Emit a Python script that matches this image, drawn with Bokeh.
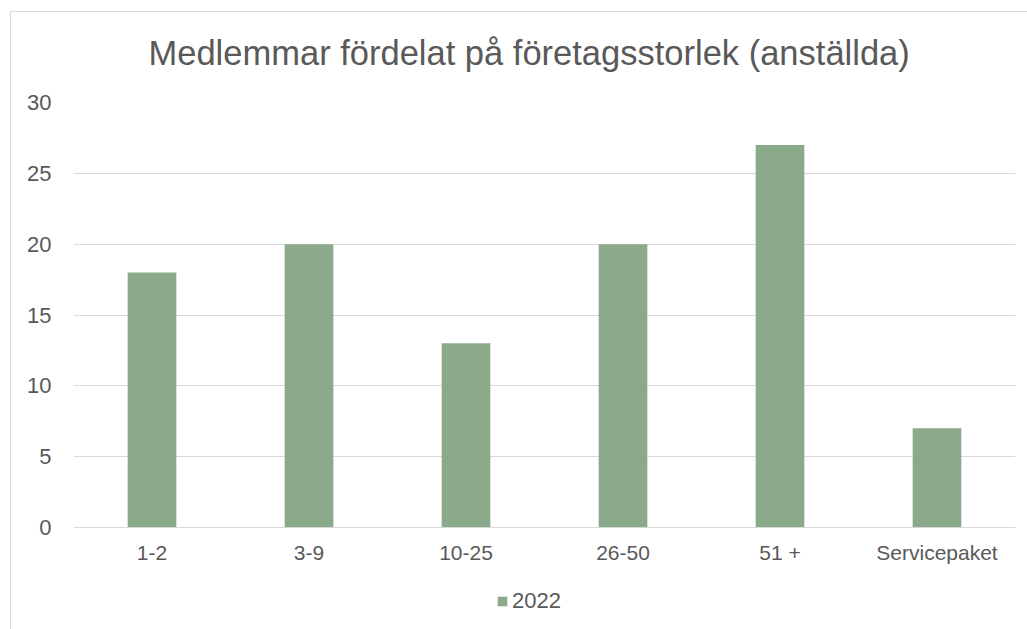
from bokeh.plotting import figure
from bokeh.models import Legend, LegendItem, FactorRange, Range1d, ColumnDataSource, FixedTicker
from bokeh.embed import file_html
from bokeh.resources import INLINE

categories = ["1-2", "3-9", "10-25", "26-50", "51 +", "Servicepaket"]
values = [18, 20, 13, 20, 27, 7]
y_ticks = [0, 5, 10, 15, 20, 25, 30]
series_name = "2022"
title_text = "Medlemmar fördelat på företagsstorlek (anställda)"

TEXT = "#595959"
GRID = "#d9d9d9"
BAR = "#8BAA8B"
FONT = "Liberation Sans"

src = ColumnDataSource(dict(cat=categories, val=values))

# frame spans from the 30-gridline down to the bottom of the picture; 0 sits 102px above the bottom
p = figure(x_range=FactorRange(*categories), y_range=Range1d(-7.2, 30),
           frame_width=942, frame_height=527, output_backend="svg", toolbar_location=None,
           min_border_left=73, min_border_right=12, min_border_top=102, min_border_bottom=0,
           title=title_text)
p.styles = {"background": "linear-gradient(#d9d9d9,#d9d9d9) 10px 11px / 1px calc(100% - 11px) no-repeat, "
                          "linear-gradient(#d9d9d9,#d9d9d9) 10px 11px / calc(100% - 10px) 1px no-repeat, #ffffff"}
p.outline_line_color = None
p.background_fill_color = "white"
p.border_fill_alpha = 0

p.title.align = "left"
p.title.vertical_align = "middle"
p.title.text_font = FONT
p.title.text_font_size = "34.5px"
p.title.text_font_style = "normal"
p.title.text_color = TEXT
p.title.standoff = 60
p.title.offset = 75

r = p.vbar(x="cat", top="val", bottom=0, width=0.31, source=src, fill_color=BAR, line_color=None)

p.xgrid.grid_line_color = None
p.yaxis.ticker = FixedTicker(ticks=y_ticks)
p.ygrid.ticker = FixedTicker(ticks=y_ticks)
p.ygrid.grid_line_color = GRID
p.ygrid.grid_line_width = 1
p.yaxis.axis_line_color = None
p.yaxis.major_tick_line_color = None
p.yaxis.minor_tick_line_color = None
p.yaxis.major_label_standoff = 16
p.yaxis.major_label_text_font_size = "22px"
p.xaxis.fixed_location = 0
p.xaxis.axis_line_color = GRID
p.xaxis.major_tick_line_color = None
p.xaxis.minor_tick_line_color = None
p.xaxis.major_label_standoff = 7
p.xaxis.major_label_text_font_size = "21px"
for ax in (p.xaxis, p.yaxis):
    ax.major_label_text_font = FONT
    ax.major_label_text_color = TEXT

legend = Legend(items=[LegendItem(label=series_name, renderers=[r])],
                orientation="horizontal", location=(423, 15),
                glyph_width=12, glyph_height=12, label_standoff=4,
                label_text_font=FONT, label_text_font_size="22px", label_text_color=TEXT,
                border_line_alpha=0, background_fill_alpha=0, margin=0, padding=0)
p.add_layout(legend, "center")

open("out.html", "w").write(file_html(p, INLINE))
